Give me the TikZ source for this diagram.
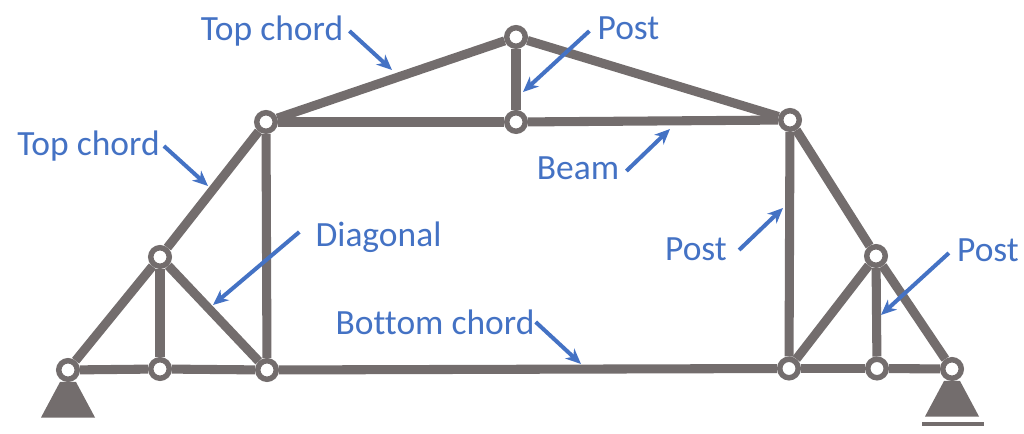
\documentclass[tikz,border=0pt]{standalone}
\usepackage{fontspec}
\setmainfont[Ligatures=NoCommon]{Carlito}
\usetikzlibrary{arrows.meta}
\definecolor{trussgray}{HTML}{736D6D}
\definecolor{labelblue}{HTML}{4472C4}
\tikzset{x=0.75pt,y=-0.75pt, % One unit is one pixel of the reference
hinge/.style={ % Sets the properties for each joint
circle,draw=trussgray,fill=white,
line width=4.1pt,
inner sep=0pt,minimum size=13.9pt},
member/.style={ % Sets the properties for each bar
draw=trussgray,line width=6.8pt},
support/.style={fill=trussgray},
callout/.style={ % Text of a label
text=labelblue,inner sep=0pt,font=\fontsize{26.6pt}{29pt}\selectfont},
pointer/.style={ % Makes pointers directed with bold arrowheads
draw=labelblue,-{Stealth[length=11.5pt,width=10pt,inset=3.5pt]},line width=3pt}}

\begin{document}
\begin{tikzpicture}
    \useasboundingbox (0,0) rectangle (1024,434);

    \node[hinge] (a) at (68,370) {};
    \node[hinge] (b) at (160,369) {};
    \node[hinge] (c) at (267,370) {};
    \node[hinge] (d) at (789,368.5) {};
    \node[hinge] (e) at (877,368.5) {};
    \node[hinge] (f) at (952,369) {};
    \node[hinge] (g) at (160,257) {};
    \node[hinge] (h) at (266,122) {};
    \node[hinge] (i) at (516,37) {};
    \node[hinge] (j) at (516,122) {};
    \node[hinge] (k) at (790,120) {};
    \node[hinge] (l) at (876,256) {};

    \draw[member] (a) -- (b);
    \draw[member] (b) -- (c);
    \draw[member] (c) -- (d);
    \draw[member] (d) -- (e);
    \draw[member] (e) -- (f);
    \draw[member] (a) -- (g);
    \draw[member] (g) -- (h);
    \draw[member] (g) -- (b);
    \draw[member] (g) -- (c);
    \draw[member] (c) -- (h);
    \draw[member] (h) -- (i);
    \draw[member] (h) -- (j);
    \draw[member] (j) -- (k);
    \draw[member] (i) -- (j);
    \draw[member] (i) -- (k);
    \draw[member] (k) -- (d);
    \draw[member] (k) -- (l);
    \draw[member] (l) -- (f);
    \draw[member] (l) -- (e);
    \draw[member] (l) -- (d);

    % supports
    \fill[support] ([xshift=-6]a.south) -- (41,417.5) -- (95,417.5) -- ([xshift=6]a.south) -- cycle;
    \fill[support] ([xshift=-6]f.south) -- (925,416.5) -- (979,416.5) -- ([xshift=6]f.south) -- cycle;
    \fill[support] (922,422) rectangle (984,426);

    % labels
    \node[callout] (chordtop) at (272,31) {Top chord};
    \node[callout] (chordleft) at (88.5,146) {Top chord};
    \node[callout] (posttop) at (628.5,28) {Post};
    \node[callout] (beam) at (578,168) {Beam};
    \node[callout] (diagonal) at (378.5,237) {Diagonal};
    \node[callout] (postmid) at (696,249) {Post};
    \node[callout] (postright) at (988,250) {Post};
    \node[callout] (chordbottom) at (435,322) {Bottom chord};

    \coordinate (tipchordtop) at (392,70);
    \coordinate (tipchordleft) at (208,186);
    \coordinate (tipposttop) at (523,92);
    \coordinate (tipbeam) at (670,129);
    \coordinate (tipdiagonal) at (213,305);
    \coordinate (tippostmid) at (783,208);
    \coordinate (tippostright) at (881,315);
    \coordinate (tipchordbottom) at (581,364);

    \draw[pointer] ([shift={(6,0)}]chordtop.east) -- (tipchordtop);
    \draw[pointer] ([shift={(4,0)}]chordleft.east) -- (tipchordleft);
    \draw[pointer] ([shift={(-8,3)}]posttop.west) -- (tipposttop);
    \draw[pointer] ([shift={(7,3)}]beam.east) -- (tipbeam);
    \draw[pointer] ([shift={(-16,-5)}]diagonal.west) -- (tipdiagonal);
    \draw[pointer] ([shift={(12,1)}]postmid.east) -- (tippostmid);
    \draw[pointer] ([shift={(-8,3)}]postright.west) -- (tippostright);
    \draw[pointer] ([shift={(1,0)}]chordbottom.east) -- (tipchordbottom);
\end{tikzpicture}
\end{document}
